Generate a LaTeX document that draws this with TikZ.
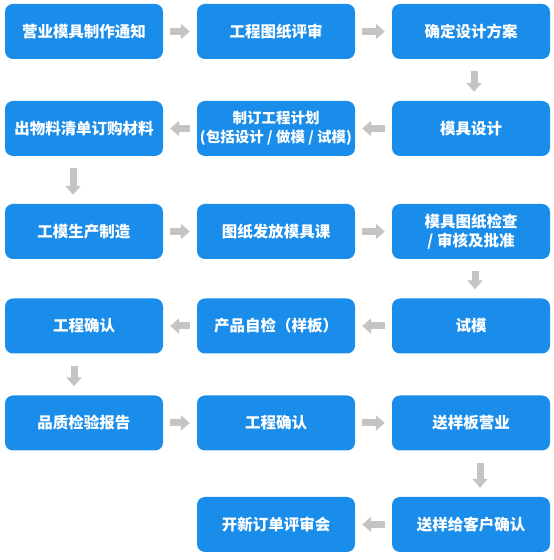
\documentclass[tikz,border=0pt]{standalone}
\usepackage{fontspec}
\newfontfamily\cjk{Noto Sans CJK SC}
\usetikzlibrary{arrows.meta}
\definecolor{boxblue}{HTML}{1A8DEA}
\definecolor{arrgray}{HTML}{C4C4C4}

\begin{document}
\begin{tikzpicture}[x=1pt,y=1pt,
  box/.style={fill=boxblue,rounded corners=8pt,minimum width=158pt,minimum height=55pt,
    inner sep=0pt,text=white,align=center,font=\cjk\bfseries\fontsize{15.5}{19}\selectfont},
  small/.style={font=\cjk\bfseries\fontsize{14.5}{19}\selectfont},
  flow/.style={draw=arrgray,line width=7pt,-{Triangle[length=9pt,width=15pt]},
    shorten <=7pt,shorten >=7pt},
  down/.style={flow,shorten <=12pt,shorten >=9pt}]
\useasboundingbox (0,0) rectangle (554,560);
% row 1
\node[box] (notice) at (84,528.5) {营业模具制作通知};
\node[box] (drawrev) at (276,528.5) {工程图纸评审};
\node[box] (scheme) at (471,528.5) {确定设计方案};
% row 2
\node[box] (bom) at (84,431.5) {出物料清单订购材料};
\node[box,small] (plan) at (276,431.5) {制订工程计划\\(包括设计 / 做模 / 试模)};
\node[box] (mdesign) at (471,431.5) {模具设计};
% row 3
\node[box] (make) at (84,328.5) {工模生产制造};
\node[box] (release) at (276,328.5) {图纸发放模具课};
\node[box] (check) at (471,328.5) {模具图纸检查\\/ 审核及批准};
% row 4
\node[box] (engok) at (84,234) {工程确认};
\node[box] (selfchk) at (276,234) {产品自检（样板）};
\node[box] (trial) at (471,234) {试模};
% row 5
\node[box] (qcrep) at (84,137) {品质检验报告};
\node[box] (engok2) at (276,137) {工程确认};
\node[box] (sample) at (471,137) {送样板营业};
% row 6
\node[box] (neworder) at (276,35.5) {开新订单评审会};
\node[box] (custok) at (471,35.5) {送样给客户确认};

\draw[flow] (notice) -- (drawrev);
\draw[flow] (drawrev) -- (scheme);
\draw[down] ([xshift=3pt]scheme.south) -- ([xshift=3pt]mdesign.north);
\draw[flow] (mdesign) -- (plan);
\draw[flow] (plan) -- (bom);
\draw[down] ([xshift=-11pt]bom.south) -- ([xshift=-11pt]make.north);
\draw[flow] (make) -- (release);
\draw[flow] (release) -- (check);
\draw[down] ([xshift=4pt]check.south) -- ([xshift=4pt]trial.north);
\draw[flow] (trial) -- (selfchk);
\draw[flow] (selfchk) -- (engok);
\draw[down] ([xshift=-10pt]engok.south) -- ([xshift=-10pt]qcrep.north);
\draw[flow] (qcrep) -- (engok2);
\draw[flow] (engok2) -- (sample);
\draw[down] ([xshift=9pt]sample.south) -- ([xshift=9pt]custok.north);
\draw[flow] (custok) -- (neworder);
\end{tikzpicture}
\end{document}
